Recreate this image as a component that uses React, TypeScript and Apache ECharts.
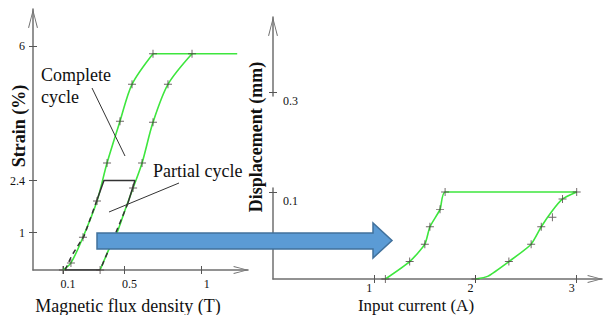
import React, { useEffect, useRef } from 'react';
import * as echarts from 'echarts';

// ---- Left panel: strain (%) vs magnetic flux density (T) ----
const riseFlux = [0.10, 0.152, 0.230, 0.321, 0.386, 0.470, 0.548, 0.684];
const riseStrain = [0, 0.19, 0.88, 1.85, 2.87, 3.99, 4.98, 5.8];
const topFlux = [0.684, 1.23];
const topStrain = [5.8, 5.8];
const fallFlux = [0.341, 0.405, 0.457, 0.503, 0.555, 0.613, 0.684, 0.781, 0.937];
const fallStrain = [0, 0.62, 1.07, 1.61, 2.20, 2.87, 3.96, 4.98, 5.8];
const riseMarkFlux = [0.10, 0.152, 0.230, 0.321, 0.386, 0.470, 0.548, 0.684];
const riseMarkStrain = [0, 0.19, 0.88, 1.85, 2.87, 3.99, 4.98, 5.8];
const fallMarkFlux = [0.341, 0.555, 0.613, 0.684, 0.781, 0.937];
const fallMarkStrain = [0, 2.20, 2.87, 3.96, 4.98, 5.8];
const partialSolidFlux = [0.321, 0.366, 0.567, 0.522];
const partialSolidStrain = [1.88, 2.4, 2.4, 1.80];
const partialBottomFlux = [0.114, 0.341];
const partialBottomStrain = [0, 0];
const partialUpFlux = [0.114, 0.159, 0.237, 0.321];
const partialUpStrain = [0, 0.40, 0.91, 1.88];
const partialDownFlux = [0.522, 0.477, 0.405, 0.341];
const partialDownStrain = [1.80, 1.34, 0.62, 0];
const fluxTicks = [0.1, 0.5, 1];
const strainTicks = [1, 2.4, 6];

// ---- Right panel: displacement (mm) vs input current (A) ----
const upCurrent = [1.11, 1.35, 1.50, 1.55, 1.65, 1.70, 3.00];
const upDisp = [0, 0.02, 0.04, 0.06, 0.08, 0.10, 0.10];
const downCurrent = [2.00, 2.12, 2.33, 2.55, 2.65, 2.75, 2.86, 3.00];
const downDisp = [0, 0.003, 0.02, 0.04, 0.06, 0.077, 0.092, 0.10];
const measCurrent = [1.11, 1.35, 1.50, 1.55, 1.65, 1.70, 2.00, 2.33, 2.55, 2.65, 2.76, 2.86, 3.00];
const measDisp = [0, 0.02, 0.04, 0.06, 0.08, 0.10, 0, 0.02, 0.04, 0.06, 0.071, 0.092, 0.10];
const currentTicks = [1, 2, 3];
const dispTicks = [0.1, 0.3];

const zip = (xs: number[], ys: number[]) => xs.map((x, i) => [x, ys[i]]);

const SERIF = "'Liberation Serif', serif";
const AXIS_COLOR = '#6f6f6f';
const GREEN = '#3ee63e';
const DARK = '#333333';
const ARROW = 'path://M0,19L5,0L10,19L9,19.3L5,3L1,19.3Z';
const PLUS = 'path://M4.4,0H5.6V4.4H10V5.6H5.6V10H4.4V5.6H0V4.4H4.4Z';

export default function App() {
  const ref = useRef<HTMLDivElement>(null);
  useEffect(() => {
    if (!ref.current) return;
    const chart = echarts.init(ref.current, undefined, { renderer: 'svg' });

    const lineStyle = { color: AXIS_COLOR, width: 1.5 };
    const tickStyle = { color: '#555', width: 1 };
    const labelBase = { fontFamily: SERIF, fontSize: 12, lineHeight: 12, color: '#111' };

    const mainX = (grid: number, min: number, max: number, ticks: number[], name: string, gap: number, padRight: number, margin: number, labelPad: number[], nameSize: number) => ({
      type: 'value', gridIndex: grid, min, max, position: 'bottom',
      axisLine: { show: true, onZero: false, symbol: ['none', ARROW], symbolSize: [10, 15], symbolOffset: [0, -7], lineStyle },
      axisTick: { show: true, customValues: ticks, length: 4, lineStyle: tickStyle },
      axisLabel: { ...labelBase, customValues: ticks, margin, padding: labelPad },
      splitLine: { show: false },
      name, nameLocation: 'middle', nameGap: gap, nameMoveOverlap: false,
      nameTextStyle: { fontFamily: SERIF, fontSize: nameSize, lineHeight: 16, color: '#111', padding: [0, padRight, 0, 0] },
    });
    const innerX = (grid: number, min: number, max: number, ticks: number[]) => ({
      type: 'value', gridIndex: grid, min, max, position: 'bottom',
      axisLine: { show: false, onZero: false },
      axisTick: { show: true, inside: true, customValues: ticks, length: 4, lineStyle: tickStyle },
      axisLabel: { show: false },
      splitLine: { show: false },
    });
    const innerY = (grid: number, min: number, max: number, ticks: number[], extra: any = {}) => ({
      type: 'value', gridIndex: grid, min, max, position: 'left',
      axisLine: { show: false, onZero: false },
      axisTick: { show: true, inside: true, customValues: ticks, length: 4, lineStyle: tickStyle },
      axisLabel: { show: false },
      splitLine: { show: false },
      ...extra,
    });

    const dispBreak = { breaks: [{ start: 0.105, end: 0.295, gap: 0.105 }], breakArea: { show: false } };

    const greenLine = (xi: number, data: number[][], smooth: number) => ({
      type: 'line', xAxisIndex: xi, yAxisIndex: xi, data, showSymbol: false, symbol: 'none', smooth,
      lineStyle: { color: GREEN, width: 1.6 }, z: 3,
    });
    const darkLine = (data: number[][], dashed: boolean) => ({
      type: 'line', xAxisIndex: 0, yAxisIndex: 0, data, showSymbol: false, symbol: 'none',
      lineStyle: { color: DARK, width: 1.5, type: dashed ? [5, 4] : 'solid' }, z: 4,
    });
    const marks = (xi: number, data: number[][]) => ({
      type: 'scatter', xAxisIndex: xi, yAxisIndex: xi, data, symbol: PLUS, symbolSize: 8,
      itemStyle: { color: '#4a4040' }, z: 5,
    });

    chart.setOption({
      animation: false,
      backgroundColor: '#ffffff',
      grid: [
        { left: 33, top: 9, width: 215, height: 261, outerBoundsMode: 'none', containLabel: false },
        { left: 273, top: 17, width: 329, height: 262, outerBoundsMode: 'none', containLabel: false },
      ],
      xAxis: [
        mainX(0, -0.094, 1.3, fluxTicks, 'Magnetic flux density (T)', 28, 25, 8, [0, 0, 0, 10], 18),
        innerX(0, -0.094, 1.3, fluxTicks),
        mainX(1, 0, 3.25, currentTicks, 'Input current (A)', 18, 43, 3, [0, 10, 0, 0], 17),
        innerX(1, 0, 3.25, currentTicks),
      ],
      yAxis: [
        {
          type: 'value', gridIndex: 0, min: 0, max: 7, position: 'left',
          axisLine: { show: true, onZero: false, symbol: ['none', ARROW], symbolSize: [10, 19], symbolOffset: [0, -9.5], lineStyle },
          axisTick: { show: true, customValues: strainTicks, length: 4, lineStyle: tickStyle },
          axisLabel: { ...labelBase, customValues: strainTicks, margin: 8 },
          splitLine: { show: false },
          name: 'Strain (%)', nameLocation: 'middle', nameRotate: 90, nameGap: 5, nameMoveOverlap: false,
          nameTextStyle: { fontFamily: SERIF, fontSize: 18, fontWeight: 'bold', color: '#111', padding: [0, 0, 0, 27] },
        },
        innerY(0, 0, 7, strainTicks),
        {
          type: 'value', gridIndex: 1, min: 0, max: 0.386, position: 'left',
          ...dispBreak,
          axisLine: { show: true, onZero: false, symbol: ['none', ARROW], symbolSize: [10, 19], symbolOffset: [0, -9.5], lineStyle },
          axisTick: { show: true, customValues: dispTicks, length: 4, lineStyle: tickStyle },
          axisLabel: { ...labelBase, customValues: dispTicks, inside: true, margin: 10, verticalAlign: 'top', padding: [3, 0, 0, 0] },
          splitLine: { show: false },
          name: 'Displacement (mm)', nameLocation: 'middle', nameRotate: 90, nameGap: 8, nameMoveOverlap: false,
          nameTextStyle: { fontFamily: SERIF, fontSize: 18, fontWeight: 'bold', color: '#111', padding: [0, 0, 0, 22] },
        },
        innerY(1, 0, 0.386, dispTicks, dispBreak),
      ],
      series: [
        greenLine(0, zip(riseFlux, riseStrain), 0.3),
        greenLine(0, zip(topFlux, topStrain), 0),
        greenLine(0, zip(fallFlux, fallStrain), 0.3),
        darkLine(zip(partialSolidFlux, partialSolidStrain), false),
        darkLine(zip(partialBottomFlux, partialBottomStrain), false),
        darkLine(zip(partialUpFlux, partialUpStrain), true),
        darkLine(zip(partialDownFlux, partialDownStrain), true),
        marks(0, zip(riseMarkFlux, riseMarkStrain)),
        marks(0, zip(fallMarkFlux, fallMarkStrain)),
        greenLine(2, zip(upCurrent, upDisp), 0.2),
        greenLine(2, zip(downCurrent, downDisp), 0.2),
        marks(2, zip(measCurrent, measDisp)),
      ],
      graphic: [
        { type: 'line', shape: { x1: 92, y1: 88, x2: 125, y2: 156 }, style: { stroke: DARK, lineWidth: 1 }, z: 50 },
        { type: 'line', shape: { x1: 179, y1: 183, x2: 109, y2: 212 }, style: { stroke: DARK, lineWidth: 1 }, z: 50 },
        {
          type: 'text', x: 41, y: 64, z: 50,
          style: { text: 'Complete\ncycle', fontFamily: SERIF, fontSize: 18, lineHeight: 22, fill: '#111', verticalAlign: 'top', align: 'left' },
        },
        {
          type: 'text', x: 153, y: 171, z: 50,
          style: { text: 'Partial cycle', fontFamily: SERIF, fontSize: 18, fill: '#111', verticalAlign: 'middle', align: 'left' },
        },
        {
          type: 'polygon', z: 100,
          shape: { points: [[97, 233], [373, 233], [373, 223], [392, 240.5], [373, 258], [373, 249], [97, 249]] },
          style: { fill: '#5b9bd5', stroke: '#41719c', lineWidth: 1.5 },
        },
      ],
    });
    return () => chart.dispose();
  }, []);
  return (
    <div
      ref={ref}
      style={{ position: 'fixed', left: 0, top: 0, width: 603, height: 315, background: '#fff' }}
    />
  );
}
